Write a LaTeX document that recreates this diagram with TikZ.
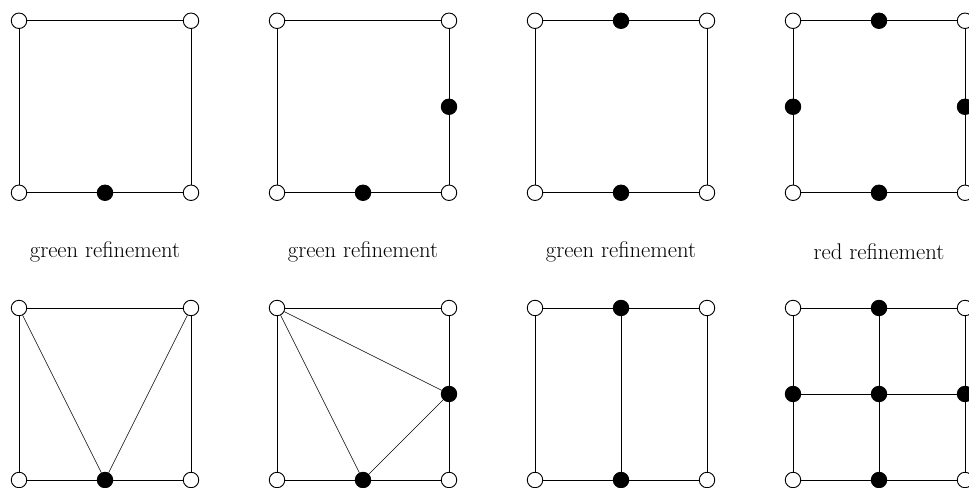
\documentclass[tikz,border=0pt]{standalone}
\tikzset{
 oldv/.style={circle,draw,line width=0.6pt,fill=white,inner sep=0pt,minimum size=0.36cm},
 newv/.style={circle,draw,line width=0.6pt,fill=black,inner sep=0pt,minimum size=0.36cm},
 reflabel/.style={font=\fontsize{15}{18}\selectfont},
}
\begin{document}
\begin{tikzpicture}[x=1cm,y=1cm]
 \useasboundingbox (-0.442,-0.186) rectangle (22.093,11.163);
 % top row: marked edges
 \begin{scope}[yshift=6.68cm]
  \node[oldv] (a1) at (0,0) {}; \node[oldv] (a2) at (4,0) {};
  \node[oldv] (a3) at (4,4) {}; \node[oldv] (a4) at (0,4) {};
  \node[newv] (ab) at (2,0) {};
  \draw (a1)--(ab)--(a2)--(a3)--(a4)--(a1);
 \end{scope}
 \begin{scope}[xshift=6cm,yshift=6.68cm]
  \node[oldv] (b1) at (0,0) {}; \node[oldv] (b2) at (4,0) {};
  \node[oldv] (b3) at (4,4) {}; \node[oldv] (b4) at (0,4) {};
  \node[newv] (bb) at (2,0) {}; \node[newv] (br) at (4,2) {};
  \draw (b1)--(bb)--(b2)--(br)--(b3)--(b4)--(b1);
 \end{scope}
 \begin{scope}[xshift=12cm,yshift=6.68cm]
  \node[oldv] (c1) at (0,0) {}; \node[oldv] (c2) at (4,0) {};
  \node[oldv] (c3) at (4,4) {}; \node[oldv] (c4) at (0,4) {};
  \node[newv] (cb) at (2,0) {}; \node[newv] (ct) at (2,4) {};
  \draw (c1)--(cb)--(c2)--(c3)--(ct)--(c4)--(c1);
 \end{scope}
 \begin{scope}[xshift=18cm,yshift=6.68cm]
  \node[oldv] (d1) at (0,0) {}; \node[oldv] (d2) at (4,0) {};
  \node[oldv] (d3) at (4,4) {}; \node[oldv] (d4) at (0,4) {};
  \node[newv] (db) at (2,0) {}; \node[newv] (dr) at (4,2) {};
  \node[newv] (dt) at (2,4) {}; \node[newv] (dl) at (0,2) {};
  \draw (d1)--(db)--(d2)--(dr)--(d3)--(dt)--(d4)--(dl)--(d1);
 \end{scope}
 % labels
 \node[reflabel] (l1) at (2,5.3) {green refinement};
 \node[reflabel] (l2) at (8,5.3) {green refinement};
 \node[reflabel] (l3) at (14,5.3) {green refinement};
 \node[reflabel] (l4) at (20,5.3) {red refinement};
 % bottom row: refined elements
 \begin{scope}
  \node[oldv] (e1) at (0,0) {}; \node[oldv] (e2) at (4,0) {};
  \node[oldv] (e3) at (4,4) {}; \node[oldv] (e4) at (0,4) {};
  \node[newv] (eb) at (2,0) {};
  \draw (e1)--(eb)--(e2)--(e3)--(e4)--(e1);
  \draw (e4)--(eb)--(e3);
 \end{scope}
 \begin{scope}[xshift=6cm]
  \node[oldv] (f1) at (0,0) {}; \node[oldv] (f2) at (4,0) {};
  \node[oldv] (f3) at (4,4) {}; \node[oldv] (f4) at (0,4) {};
  \node[newv] (fb) at (2,0) {}; \node[newv] (fr) at (4,2) {};
  \draw (f1)--(fb)--(f2)--(fr)--(f3)--(f4)--(f1);
  \draw (fb)--(f4)--(fr)--(fb);
 \end{scope}
 \begin{scope}[xshift=12cm]
  \node[oldv] (g1) at (0,0) {}; \node[oldv] (g2) at (4,0) {};
  \node[oldv] (g3) at (4,4) {}; \node[oldv] (g4) at (0,4) {};
  \node[newv] (gb) at (2,0) {}; \node[newv] (gt) at (2,4) {};
  \draw (g1)--(gb)--(g2)--(g3)--(gt)--(g4)--(g1);
  \draw (gt)--(gb);
 \end{scope}
 \begin{scope}[xshift=18cm]
  \node[oldv] (h1) at (0,0) {}; \node[oldv] (h2) at (4,0) {};
  \node[oldv] (h3) at (4,4) {}; \node[oldv] (h4) at (0,4) {};
  \node[newv] (hb) at (2,0) {}; \node[newv] (hr) at (4,2) {};
  \node[newv] (ht) at (2,4) {}; \node[newv] (hl) at (0,2) {};
  \node[newv] (hc) at (2,2) {};
  \draw (h1)--(hb)--(h2)--(hr)--(h3)--(ht)--(h4)--(hl)--(h1);
  \draw (ht)--(hc)--(hb) (hl)--(hc)--(hr);
 \end{scope}
\end{tikzpicture}
\end{document}
